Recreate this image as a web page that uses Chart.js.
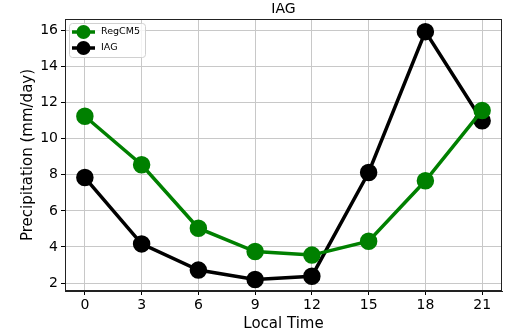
<!DOCTYPE html>
<html>
<head>
<meta charset="utf-8">
<script src="https://cdn.jsdelivr.net/npm/chart.js@4/dist/chart.umd.min.js"></script>
<style>
  html, body { margin: 0; padding: 0; background: #fff; }
  #wrap { width: 507px; height: 333px; }
</style>
</head>
<body>
<div id="wrap"><canvas id="c" width="507" height="333"></canvas></div>
<script>
// Diurnal cycle of precipitation at IAG: model vs. station
const hours = [0, 3, 6, 9, 12, 15, 18, 21];
const regcm5 = [11.25, 8.56, 5.04, 3.75, 3.55, 4.32, 7.67, 11.57];
const iag = [7.85, 4.17, 2.72, 2.2, 2.38, 8.13, 15.94, 11.0];
const xTicks = [0, 3, 6, 9, 12, 15, 18, 21];
const yTicks = [2, 4, 6, 8, 10, 12, 14, 16];

const FONT = "'DejaVu Sans', sans-serif";

function pts(values) {
  return hours.map((h, i) => ({ x: h, y: values[i] }));
}

// Frame, title and an in-axes legend
const decor = {
  id: 'decor',
  afterDraw(chart) {
    const { ctx, chartArea: a } = chart;
    ctx.save();
    // axes frame
    ctx.strokeStyle = '#222';
    ctx.lineWidth = 1;
    ctx.strokeRect(a.left + 0.5, a.top + 0.5, a.right - a.left - 1, a.bottom - a.top - 1);
    // title
    ctx.fillStyle = '#000';
    ctx.font = '14px ' + FONT;
    ctx.textAlign = 'center';
    ctx.textBaseline = 'bottom';
    ctx.fillText('IAG', (a.left + a.right) / 2, a.top - 3);
    // legend box
    const bx = a.left + 4, by = a.top + 4, bw = 76, bh = 34;
    ctx.fillStyle = 'rgba(255,255,255,0.8)';
    ctx.strokeStyle = '#d0d0d0';
    ctx.lineWidth = 1;
    ctx.beginPath();
    ctx.roundRect(bx + 0.5, by + 0.5, bw, bh, 3);
    ctx.fill();
    ctx.stroke();
    chart.data.datasets.forEach((ds, i) => {
      const cy = by + 9 + i * 16;
      ctx.strokeStyle = ds.borderColor;
      ctx.lineWidth = 3.5;
      ctx.beginPath();
      ctx.moveTo(bx + 3, cy);
      ctx.lineTo(bx + 26, cy);
      ctx.stroke();
      ctx.fillStyle = ds.pointBackgroundColor;
      ctx.beginPath();
      ctx.arc(bx + 14.5, cy, 7, 0, Math.PI * 2);
      ctx.fill();
      ctx.fillStyle = '#000';
      ctx.font = '9.5px ' + FONT;
      ctx.textAlign = 'left';
      ctx.textBaseline = 'middle';
      ctx.fillText(ds.label, bx + 32, cy);
    });
    ctx.restore();
  }
};

new Chart(document.getElementById('c'), {
  type: 'line',
  data: {
    datasets: [
      {
        label: 'RegCM5',
        data: pts(regcm5),
        borderColor: '#008000',
        backgroundColor: '#008000',
        pointBackgroundColor: '#008000',
        pointBorderColor: '#008000',
        borderWidth: 3.5,
        pointRadius: 7,
        tension: 0
      },
      {
        label: 'IAG',
        data: pts(iag),
        borderColor: '#000000',
        backgroundColor: '#000000',
        pointBackgroundColor: '#000000',
        pointBorderColor: '#000000',
        borderWidth: 3.5,
        pointRadius: 7,
        tension: 0
      }
    ]
  },
  options: {
    responsive: false,
    animation: false,
    devicePixelRatio: 1,
    layout: { autoPadding: false, padding: { left: 0, right: 5, top: 19, bottom: 0 } },
    plugins: {
      legend: { display: false },
      title: { display: false },
      tooltip: { enabled: false }
    },
    scales: {
      x: {
        type: 'linear',
        min: -1.05,
        max: 22.05,
        afterBuildTicks: s => { s.ticks = xTicks.map(v => ({ value: v })); },
        afterFit: s => { s.height = 42; s.paddingLeft = 0; s.paddingRight = 0; },
        ticks: {
          color: '#000',
          font: { family: FONT, size: 14 },
          padding: 2,
          maxRotation: 0
        },
        grid: { color: '#c8c8c8', lineWidth: 1, tickLength: 4, tickColor: '#000' },
        border: { color: '#222' },
        title: {
          display: true,
          text: 'Local Time',
          color: '#000',
          font: { family: FONT, size: 15 },
          padding: { top: 0, bottom: 0 }
        }
      },
      y: {
        type: 'linear',
        min: 1.56,
        max: 16.64,
        afterBuildTicks: s => { s.ticks = yTicks.map(v => ({ value: v })); },
        afterFit: s => { s.width = 65; s.paddingTop = 0; s.paddingBottom = 0; },
        ticks: {
          color: '#000',
          font: { family: FONT, size: 14 },
          padding: 3
        },
        grid: { color: '#c8c8c8', lineWidth: 1, tickLength: 4, tickColor: '#000' },
        border: { color: '#222' },
        title: {
          display: true,
          text: 'Precipitation (mm/day)',
          color: '#000',
          font: { family: FONT, size: 15 },
          padding: { top: 19, bottom: 2 }
        }
      }
    }
  },
  plugins: [decor]
});
</script>
</body>
</html>
